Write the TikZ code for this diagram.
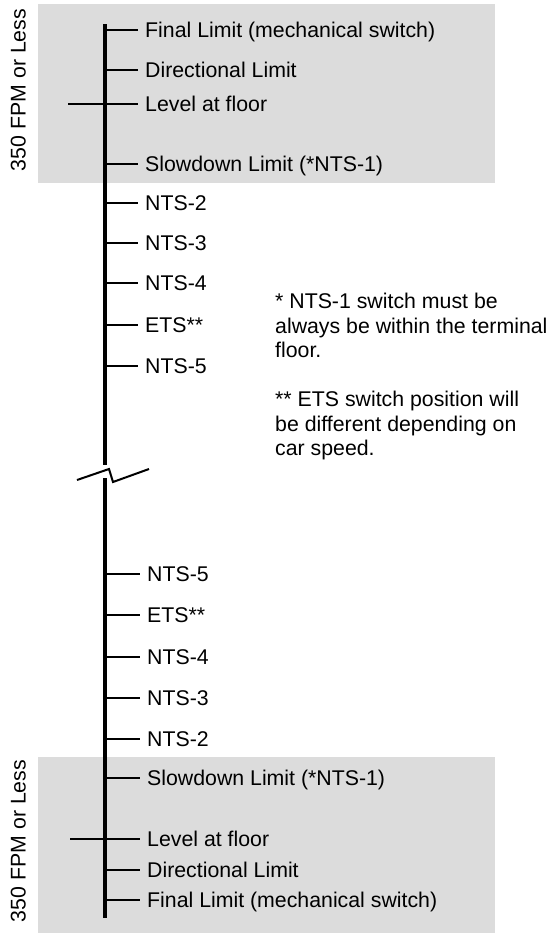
\documentclass[tikz,border=0pt]{standalone}
\usepackage{fontspec}
\setmainfont{Liberation Sans}
\usepackage{xcolor}
\definecolor{zonegray}{RGB}{220, 220, 220}
\usepackage{tikz}
\usetikzlibrary{positioning}

\begin{document}
\begin{tikzpicture}[x=1pt, y=-1pt,
    swlabel/.style={anchor=west, inner xsep=7pt, inner ysep=0pt, text height=15.2pt, text depth=0pt, font=\fontsize{21.3pt}{24.5pt}\selectfont},
    swtick/.style={line width=2pt},
    spine/.style={line width=4pt}]
    \useasboundingbox (0,0) rectangle (551,935);
    % shaded zones (350 FPM or less)
    \fill[zonegray] (38,4) rectangle (495,183);
    \fill[zonegray] (38,757) rectangle (495,933);
    \node[rotate=90, font=\fontsize{21.3pt}{24.5pt}\selectfont, text height=15.2pt, text depth=0pt, inner sep=0pt] (zonetop) at (18,90) {350 FPM or Less};
    \node[rotate=90, font=\fontsize{21.3pt}{24.5pt}\selectfont, text height=15.2pt, text depth=0pt, inner sep=0pt] (zonebot) at (18,841) {350 FPM or Less};
    % hoistway spine with break
    \coordinate (spinetop) at (105,24);
    \coordinate (breaktop) at (105,465);
    \coordinate (breakbot) at (105,478);
    \coordinate (spinebot) at (105,918);
    \draw[spine] (spinetop) -- (breaktop);
    \draw[spine] (breakbot) -- (spinebot);
    \coordinate (zigA) at (77,480);
    \coordinate (zigB) at (109,469);
    \coordinate (zigC) at (113,482);
    \coordinate (zigD) at (149,469);
    \draw[swtick, line join=miter] (zigA) -- (zigB) -- (zigC) -- (zigD);
    % top terminal switches
    \foreach \ypos/\name/\txt in {30/tfinal/{Final Limit (mechanical switch)}, 70/tdir/{Directional Limit}, 104/tlevel/{Level at floor}, 164/tslow/{Slowdown Limit (*NTS-1)}, 203/tntsii/{NTS-2}, 243/tntsiii/{NTS-3}, 283/tntsiv/{NTS-4}, 325/tets/{ETS**}, 366/tntsv/{NTS-5}} {
        \coordinate (s\name) at (105,\ypos);
        \node[swlabel] (\name) at (138,\ypos) {\txt};
        \draw[swtick] (s\name) -- (\name.west);
    }
    % bottom terminal switches
    \foreach \ypos/\name/\txt in {574/bntsv/{NTS-5}, 615/bets/{ETS**}, 657/bntsiv/{NTS-4}, 698/bntsiii/{NTS-3}, 739/bntsii/{NTS-2}, 778/bslow/{Slowdown Limit (*NTS-1)}, 839/blevel/{Level at floor}, 870/bdir/{Directional Limit}, 900/bfinal/{Final Limit (mechanical switch)}} {
        \coordinate (s\name) at (105,\ypos);
        \node[swlabel] (\name) at (140,\ypos) {\txt};
        \draw[swtick] (s\name) -- (\name.west);
    }
    % floor level marks cross the spine
    \coordinate (tfloor) at (68,104);
    \coordinate (bfloor) at (70,839);
    \draw[swtick] (tfloor) -- (stlevel);
    \draw[swtick] (bfloor) -- (sblevel);
    % notes
    \node[anchor=north west, align=left, inner sep=0pt, font=\fontsize{21.3pt}{24.5pt}\selectfont] (notes) at (275,293) {* NTS-1 switch must be\\always be within the terminal\\floor.\\[24.5pt]** ETS switch position will\\be different depending on\\car speed.};
\end{tikzpicture}
\end{document}
